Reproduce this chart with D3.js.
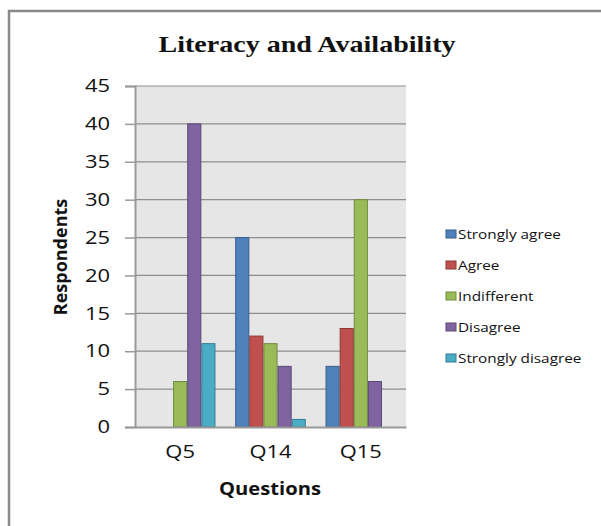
<!DOCTYPE html>
<html>
<head>
<meta charset="utf-8">
<script src="https://cdn.jsdelivr.net/npm/d3@7"></script>
<style>
  html, body { margin: 0; padding: 0; background: #fff; }
  svg { display: block; }
</style>
</head>
<body>
<svg id="chart" width="601" height="526"></svg>
<script>
// Survey responses per question
const questions = ["Q5", "Q14", "Q15"];
const seriesNames = ["Strongly agree", "Agree", "Indifferent", "Disagree", "Strongly disagree"];
const stronglyAgree    = [0, 25, 8];
const agree            = [0, 12, 13];
const indifferent      = [6, 11, 30];
const disagree         = [40, 8, 6];
const stronglyDisagree = [11, 1, 0];
const yTicks = [0, 5, 10, 15, 20, 25, 30, 35, 40, 45];

const seriesValues = [stronglyAgree, agree, indifferent, disagree, stronglyDisagree];
const fills   = ["#4F81BD", "#C0504D", "#9BBB59", "#8064A2", "#4BACC6"];
const strokes = ["#385D8A", "#8C3836", "#71893F", "#5C4776", "#357D91"];

const SANS = "'Open Sans', sans-serif";
const WIDE = 1.22; // horizontal stretch applied to the labels

// widen a text element horizontally while keeping its anchor point
function widen(sel, k = WIDE) {
  sel.each(function () {
    const t = d3.select(this);
    const x0 = +t.attr("x") || 0;
    t.attr("x", x0 / k).attr("transform", `scale(${k},1)`);
  });
}

const svg = d3.select("#chart");
const plot = { left: 135, right: 406, top: 86, bottom: 427 };

// outer frame (left and top edges visible)
svg.append("path")
  .attr("d", "M9,526 V11 H601")
  .attr("fill", "none")
  .attr("stroke", "#8a8a8a")
  .attr("stroke-width", 2.5);

svg.append("text")
  .attr("x", 307).attr("y", 52)
  .attr("text-anchor", "middle")
  .attr("font-family", "'Liberation Serif', 'Times New Roman', serif")
  .attr("font-weight", "bold")
  .attr("font-size", 23)
  .attr("fill", "#111")
  .text("Literacy and Availability")
  .call(widen);

const x = d3.scaleBand().domain(questions).range([plot.left, plot.right]);
const inner = d3.scaleBand().domain(seriesNames).range([0, x.bandwidth()]).paddingOuter(0.7);
const y = d3.scaleLinear().domain([0, 45]).range([plot.bottom, plot.top]);

svg.append("rect")
  .attr("x", plot.left).attr("y", plot.top)
  .attr("width", plot.right - plot.left).attr("height", plot.bottom - plot.top)
  .attr("fill", "#e6e6e6");

// horizontal gridlines
svg.append("g").selectAll("line").data(yTicks.filter(t => t > 0)).join("line")
  .attr("x1", plot.left).attr("x2", plot.right)
  .attr("y1", d => y(d)).attr("y2", d => y(d))
  .attr("stroke", "#8e8e8e").attr("stroke-width", 1.2);

// bars: one record per (question, series) pair
const barData = [];
seriesNames.forEach((name, si) => {
  questions.forEach((q, qi) => {
    barData.push({ q, name, si, value: seriesValues[si][qi] });
  });
});

svg.append("g").selectAll("rect")
  .data(barData.filter(d => d.value > 0))
  .join("rect")
  .attr("x", d => x(d.q) + inner(d.name) + 0.5)
  .attr("y", d => y(d.value))
  .attr("width", inner.bandwidth() - 1)
  .attr("height", d => plot.bottom - y(d.value))
  .attr("fill", d => fills[d.si])
  .attr("stroke", d => strokes[d.si])
  .attr("stroke-width", 1);

// y axis
const yAxis = svg.append("g")
  .attr("transform", `translate(${plot.left},0)`)
  .call(d3.axisLeft(y).tickValues(yTicks).tickSize(10).tickPadding(15));
yAxis.select(".domain").attr("stroke", "#999").attr("stroke-width", 2);
yAxis.selectAll(".tick line").attr("stroke", "#999").attr("stroke-width", 1.5);
yAxis.selectAll(".tick text")
  .attr("font-family", SANS)
  .attr("font-size", 18)
  .attr("fill", "#111")
  .call(widen);

// x axis
const xAxis = svg.append("g")
  .attr("transform", `translate(0,${plot.bottom})`)
  .call(d3.axisBottom(x).tickSize(0).tickPadding(18));
xAxis.select(".domain").attr("stroke", "#999").attr("stroke-width", 2);
xAxis.selectAll(".tick text")
  .attr("font-family", SANS)
  .attr("font-size", 18)
  .attr("fill", "#111")
  .call(widen);

// axis titles
svg.append("text")
  .attr("transform", "translate(67,257) rotate(-90)")
  .attr("text-anchor", "middle")
  .attr("font-family", SANS)
  .attr("font-weight", "bold")
  .attr("font-size", 18)
  .attr("fill", "#111")
  .text("Respondents");

svg.append("text")
  .attr("x", 270).attr("y", 495)
  .attr("text-anchor", "middle")
  .attr("font-family", SANS)
  .attr("font-weight", "bold")
  .attr("font-size", 18)
  .attr("fill", "#111")
  .text("Questions")
  .call(widen, 1.12);

// legend
const legend = svg.append("g").selectAll("g").data(seriesNames).join("g")
  .attr("transform", (d, i) => `translate(446,${234 + i * 31})`);
legend.append("rect")
  .attr("x", 0).attr("y", -4).attr("width", 10).attr("height", 8)
  .attr("fill", (d, i) => fills[i])
  .attr("stroke", (d, i) => strokes[i]);
legend.append("text")
  .attr("x", 12).attr("y", 5)
  .attr("font-family", SANS)
  .attr("font-size", 13)
  .attr("fill", "#111")
  .text(d => d)
  .call(widen, 1.18);
</script>
</body>
</html>
